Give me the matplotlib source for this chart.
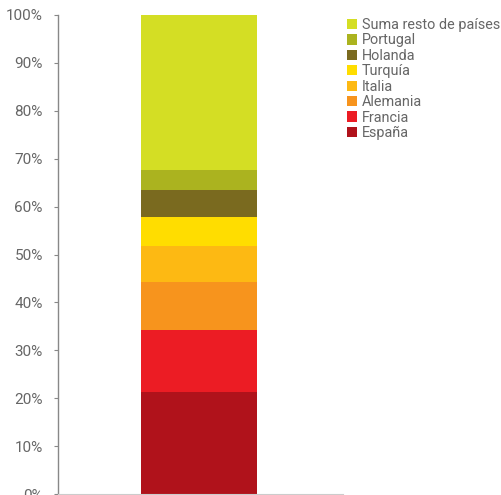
import matplotlib
matplotlib.use("Agg")
import matplotlib.pyplot as plt
from matplotlib.patches import Patch

countries = ["España", "Francia", "Alemania", "Italia", "Turquía", "Holanda", "Portugal", "Suma resto de países"]
shares = [21.2, 13.0, 10.1, 7.4, 6.2, 5.6, 4.2, 32.3]
colors = ["#b0121b", "#ec1c24", "#f7941d", "#fdb913", "#ffdd00", "#7a6a1f", "#abb31f", "#d4de24"]
yticks = list(range(0, 101, 10))
ytick_labels = [f"{v}%" for v in yticks]

plt.rcParams['font.family'] = ['Roboto', 'DejaVu Sans']

fig = plt.figure(figsize=(5.01, 4.95), dpi=100)
ax = fig.add_axes([58/501, 1/495, 285/501, 479/495])

bottom = 0
handles = []
for c, v, col in zip(countries, shares, colors):
    ax.bar(0.4947, v, width=0.407, bottom=bottom, color=col, edgecolor='none')
    bottom += v
    handles.append(Patch(facecolor=col, edgecolor='none', label=c))

ax.set_xlim(0, 1)
ax.set_ylim(0, 100)
ax.set_yticks(yticks)
ax.set_yticklabels(ytick_labels)
ax.set_xticks([])
for s in ['top', 'right']:
    ax.spines[s].set_visible(False)
ax.spines['left'].set_color('#888888')
ax.spines['left'].set_linewidth(1.0)
ax.spines['bottom'].set_color('#cccccc')
ax.spines['bottom'].set_linewidth(0.8)
ax.tick_params(axis='y', direction='out', length=3, width=0.8, color='#888888',
               labelcolor='#666666', labelsize=11, pad=8)

leg = fig.legend(handles=handles[::-1], loc='upper left', bbox_to_anchor=(347/501, 1 - 18/495),
                 frameon=False, fontsize=10.4, handlelength=0.72, handleheight=0.72,
                 handletextpad=0.3, labelspacing=0.1, borderaxespad=0, borderpad=0)
for t in leg.get_texts():
    t.set_color('#666666')

fig.savefig("out.png", dpi=100)
